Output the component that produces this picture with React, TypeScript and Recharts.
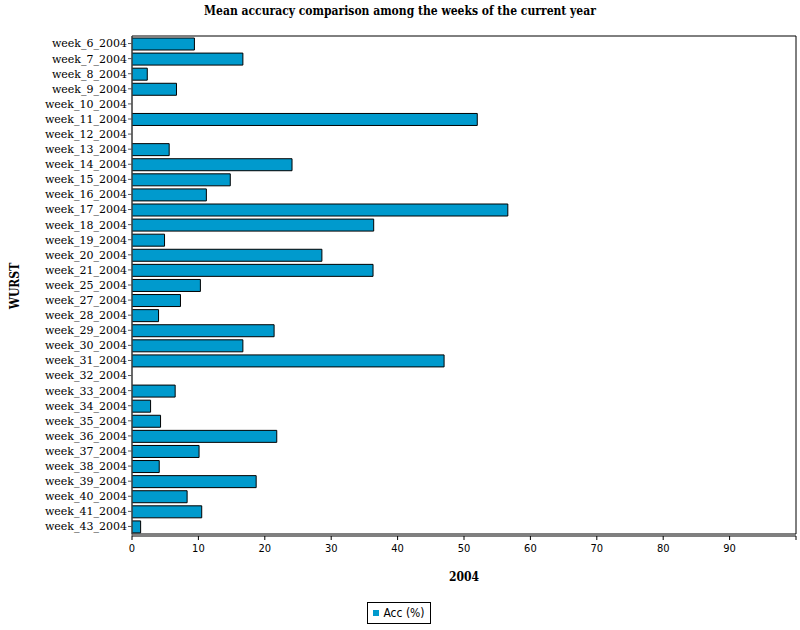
import { Bar, BarChart, Label, ReferenceArea, XAxis, YAxis } from "recharts";

const weeks = [
  "week_6_2004", "week_7_2004", "week_8_2004", "week_9_2004", "week_10_2004",
  "week_11_2004", "week_12_2004", "week_13_2004", "week_14_2004", "week_15_2004",
  "week_16_2004", "week_17_2004", "week_18_2004", "week_19_2004", "week_20_2004",
  "week_21_2004", "week_25_2004", "week_27_2004", "week_28_2004", "week_29_2004",
  "week_30_2004", "week_31_2004", "week_32_2004", "week_33_2004", "week_34_2004",
  "week_35_2004", "week_36_2004", "week_37_2004", "week_38_2004", "week_39_2004",
  "week_40_2004", "week_41_2004", "week_43_2004",
];

const accuracy = [
  9.4, 16.7, 2.3, 6.7, 0, 52.0, 0, 5.6, 24.1, 14.8,
  11.2, 56.6, 36.4, 4.9, 28.6, 36.3, 10.3, 7.3, 4.0, 21.4,
  16.7, 47.0, 0, 6.5, 2.8, 4.3, 21.8, 10.1, 4.1, 18.7,
  8.3, 10.5, 1.3,
];

const xTicks = [0, 10, 20, 30, 40, 50, 60, 70, 80, 90, 100];

const barColor = "#009acd";
const serif = "'DejaVu Serif', serif";
const serifCond = "'DejaVu Serif Condensed', 'DejaVu Serif', serif";
const sansCond = "'DejaVu Sans Condensed', 'DejaVu Sans', sans-serif";

const rows = weeks.map((week, i) => ({ week, acc: accuracy[i] }));

function WurstLabel(props: any) {
  const vb = props.viewBox;
  const x = vb.x + 15;
  const y = vb.y + vb.height / 2;
  return (
    <text
      x={x}
      y={y}
      transform={`rotate(-90, ${x}, ${y})`}
      textAnchor="middle"
      dominantBaseline="central"
      fontFamily={serifCond}
      fontWeight="bold"
      fontSize={12}
      fill="#000"
    >
      WURST
    </text>
  );
}

export default function App() {
  return (
    <div style={{ position: "absolute", left: 0, top: 0, width: 800, height: 630, background: "#fff" }}>
      <div
        style={{
          position: "absolute",
          left: 0,
          top: 4,
          width: 800,
          textAlign: "center",
          fontFamily: serifCond,
          fontWeight: "bold",
          fontSize: 12,
        }}
      >
        Mean accuracy comparison among the weeks of the current year
      </div>
      <BarChart
        width={800}
        height={630}
        data={rows}
        layout="vertical"
        margin={{ top: 36, right: 4, bottom: 64, left: 0 }}
        barCategoryGap={0}
      >
        <XAxis
          type="number"
          domain={[0, 100]}
          ticks={xTicks}
          tickFormatter={(v) => (v === 100 ? "" : String(v))}
          height={30}
          tickSize={4}
          tickMargin={4}
          stroke="#000"
          tick={{ fill: "#000", fontSize: 11, fontFamily: sansCond }}
          allowDataOverflow
        >
          <Label
            value="2004"
            position="bottom"
            offset={6}
            style={{ fontFamily: serifCond, fontWeight: "bold", fontSize: 12, fill: "#000" }}
          />
        </XAxis>
        <YAxis
          type="category"
          dataKey="week"
          width={132}
          interval={0}
          tickSize={4}
          tickMargin={1}
          padding={{ top: 0, bottom: 2 }}
          stroke="#555"
          tick={{ fill: "#000", fontSize: 11, fontFamily: serif }}
        >
          <Label content={<WurstLabel />} />
        </YAxis>
        <ReferenceArea x1={0} x2={100} fill="none" stroke="#000" strokeWidth={1} ifOverflow="visible" />
        <Bar
          dataKey="acc"
          fill={barColor}
          stroke="#000"
          strokeWidth={1}
          barSize={12}
          isAnimationActive={false}
        />
      </BarChart>
      <div
        style={{
          position: "absolute",
          left: 367,
          top: 602,
          width: 64,
          height: 22,
          border: "1px solid #000",
          display: "flex",
          alignItems: "center",
          justifyContent: "center",
          gap: 4,
          fontFamily: sansCond,
          fontSize: 12,
          boxSizing: "border-box",
        }}
      >
        <span style={{ display: "inline-block", width: 6, height: 6, background: barColor }} />
        <span>Acc (%)</span>
      </div>
    </div>
  );
}
